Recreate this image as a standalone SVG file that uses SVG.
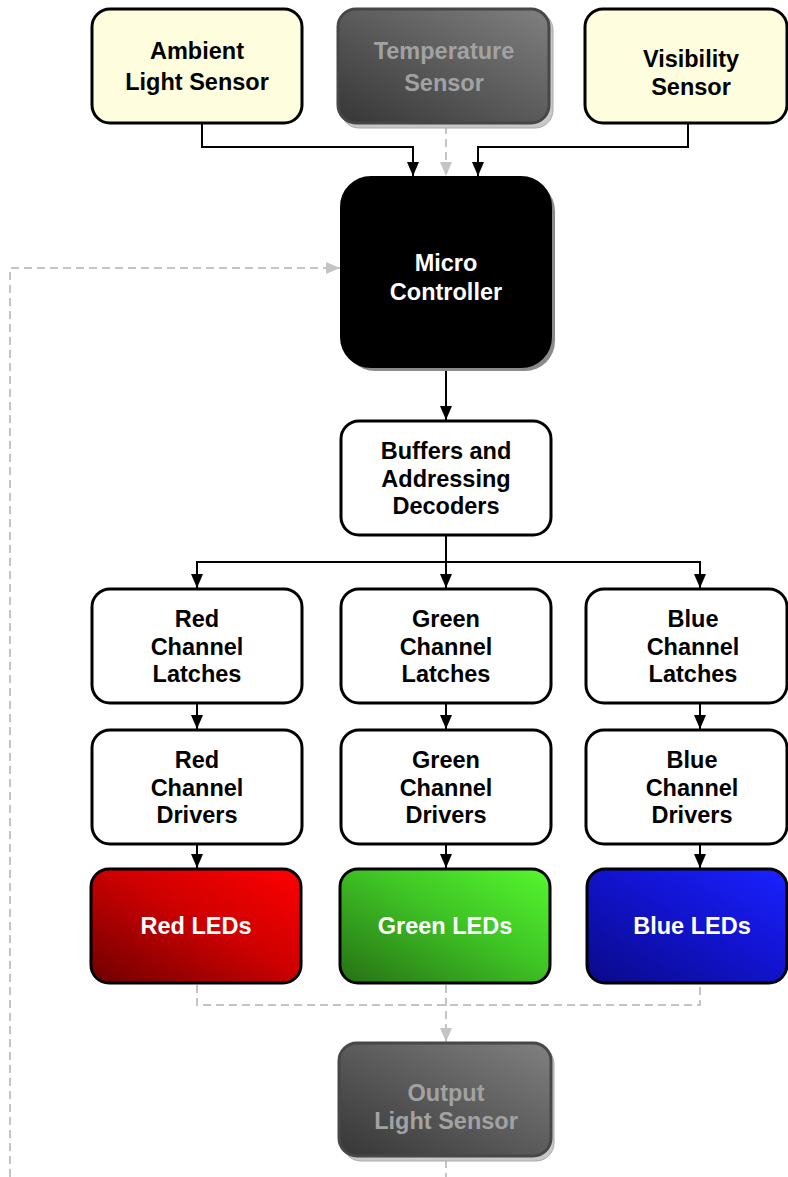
<svg xmlns="http://www.w3.org/2000/svg" width="788" height="1177" viewBox="0 0 788 1177">
<style>
.box{stroke:#000;stroke-width:3}
.white{fill:#fff}
.yellow{fill:#fefede}
.t{font-family:"Liberation Sans",Arial,Helvetica,sans-serif;font-weight:bold;font-size:23.5px;text-anchor:middle;fill:#000}
.tw{fill:#fff}
.tg{fill:#a2a2a2}
.c{fill:none;stroke:#000;stroke-width:2}
.d{fill:none;stroke:#c4c4c4;stroke-width:2;stroke-dasharray:8 5}
.gray{stroke:#474747;stroke-width:3}
.sh{fill:#c8c8c8;stroke:#aaa;stroke-width:1}
</style>
<defs>
<marker id="ah" markerUnits="userSpaceOnUse" viewBox="0 0 14 12" refX="14" refY="6" markerWidth="14" markerHeight="12" orient="auto"><path d="M0,0 L14,6 L0,12 z" fill="#000"/></marker>
<marker id="ahg" markerUnits="userSpaceOnUse" viewBox="0 0 14 12" refX="14" refY="6" markerWidth="14" markerHeight="12" orient="auto"><path d="M0,0 L14,6 L0,12 z" fill="#c4c4c4"/></marker>
<linearGradient id="gGray" x1="0" y1="1" x2="1" y2="0"><stop offset="0" stop-color="#363636"/><stop offset="1" stop-color="#808080"/></linearGradient>
<linearGradient id="gRed" x1="0" y1="1" x2="1" y2="0"><stop offset="0" stop-color="#6e0000"/><stop offset="0.55" stop-color="#d00000"/><stop offset="1" stop-color="#ff0000"/></linearGradient>
<linearGradient id="gGreen" x1="0" y1="1" x2="1" y2="0"><stop offset="0" stop-color="#267014"/><stop offset="0.55" stop-color="#3fc425"/><stop offset="1" stop-color="#55f72e"/></linearGradient>
<linearGradient id="gBlue" x1="0" y1="1" x2="1" y2="0"><stop offset="0" stop-color="#0a0a88"/><stop offset="0.55" stop-color="#1214d0"/><stop offset="1" stop-color="#1a22ff"/></linearGradient>
</defs>

<g id="connectors">
<path class="c" d="M202,124 V147 H413 V176" marker-end="url(#ah)"/>
<path class="d" d="M446,126 V176" marker-end="url(#ahg)"/>
<path class="c" d="M688,124 V147 H478 V176" marker-end="url(#ah)"/>
<path class="d" d="M10,1177 V268 H340" marker-end="url(#ahg)"/>
<path class="c" d="M446,370 V420" marker-end="url(#ah)"/>
<path class="c" d="M446,536 V588" marker-end="url(#ah)"/>
<path class="c" d="M446,562 H197 V588" marker-end="url(#ah)"/>
<path class="c" d="M446,562 H700 V588" marker-end="url(#ah)"/>
<path class="c" d="M197,704 V729" marker-end="url(#ah)"/>
<path class="c" d="M446,704 V729" marker-end="url(#ah)"/>
<path class="c" d="M700,704 V729" marker-end="url(#ah)"/>
<path class="c" d="M197,845 V868" marker-end="url(#ah)"/>
<path class="c" d="M446,845 V868" marker-end="url(#ah)"/>
<path class="c" d="M700,845 V868" marker-end="url(#ah)"/>
<path class="d" d="M197,985 V1005 H700 V985"/>
<path class="d" d="M446,985 V1042" marker-end="url(#ahg)"/>
<path class="d" d="M446,1160 V1177"/>
</g>

<g id="ambient">
<rect class="box yellow" x="92" y="9" width="210" height="114" rx="18"/>
<text class="t" x="197" y="59">Ambient</text>
<text class="t" x="197" y="90">Light Sensor</text>
</g>

<g id="temperature">
<rect class="sh" x="341" y="12" width="212" height="116" rx="18"/>
<rect class="gray" fill="url(#gGray)" x="338" y="9" width="211" height="114" rx="18"/>
<text class="t tg" x="444" y="59">Temperature</text>
<text class="t tg" x="444" y="91">Sensor</text>
</g>

<g id="visibility">
<rect class="box yellow" x="585" y="9" width="202" height="114" rx="18"/>
<text class="t" x="691" y="67">Visibility</text>
<text class="t" x="691" y="95">Sensor</text>
</g>

<g id="micro">
<rect x="345" y="181" width="210" height="190" rx="30" fill="#8a8a8a"/>
<rect x="341" y="177" width="210" height="190" rx="30" fill="#000" stroke="#000" stroke-width="2"/>
<text class="t tw" x="446" y="271">Micro</text>
<text class="t tw" x="446" y="300">Controller</text>
</g>

<g id="buffers">
<rect class="box white" x="341" y="421" width="210" height="114" rx="18"/>
<text class="t" x="446" y="459">Buffers and</text>
<text class="t" x="446" y="487">Addressing</text>
<text class="t" x="446" y="514">Decoders</text>
</g>

<g id="red-latches">
<rect class="box white" x="92" y="589" width="210" height="114" rx="18"/>
<text class="t" x="197" y="627">Red</text>
<text class="t" x="197" y="655">Channel</text>
<text class="t" x="197" y="682">Latches</text>
</g>
<g id="green-latches">
<rect class="box white" x="341" y="589" width="210" height="114" rx="18"/>
<text class="t" x="446" y="627">Green</text>
<text class="t" x="446" y="655">Channel</text>
<text class="t" x="446" y="682">Latches</text>
</g>
<g id="blue-latches">
<rect class="box white" x="586" y="589" width="201" height="114" rx="18"/>
<text class="t" x="693" y="627">Blue</text>
<text class="t" x="693" y="655">Channel</text>
<text class="t" x="693" y="682">Latches</text>
</g>

<g id="red-drivers">
<rect class="box white" x="92" y="730" width="210" height="114" rx="18"/>
<text class="t" x="197" y="768">Red</text>
<text class="t" x="197" y="796">Channel</text>
<text class="t" x="197" y="823">Drivers</text>
</g>
<g id="green-drivers">
<rect class="box white" x="341" y="730" width="210" height="114" rx="18"/>
<text class="t" x="446" y="768">Green</text>
<text class="t" x="446" y="796">Channel</text>
<text class="t" x="446" y="823">Drivers</text>
</g>
<g id="blue-drivers">
<rect class="box white" x="586" y="730" width="201" height="114" rx="18"/>
<text class="t" x="692" y="768">Blue</text>
<text class="t" x="692" y="796">Channel</text>
<text class="t" x="692" y="823">Drivers</text>
</g>

<g id="red-leds">
<rect class="box" fill="url(#gRed)" x="91" y="869" width="210" height="114" rx="18"/>
<text class="t tw" x="196" y="934">Red LEDs</text>
</g>
<g id="green-leds">
<rect class="box" fill="url(#gGreen)" x="340" y="869" width="210" height="114" rx="18"/>
<text class="t tw" x="445" y="934">Green LEDs</text>
</g>
<g id="blue-leds">
<rect class="box" fill="url(#gBlue)" x="587" y="869" width="200" height="114" rx="18"/>
<text class="t tw" x="692" y="934">Blue LEDs</text>
</g>

<g id="output-sensor">
<rect class="sh" x="343" y="1046" width="211" height="115" rx="18"/>
<rect class="gray" fill="url(#gGray)" x="339" y="1043" width="212" height="113" rx="18"/>
<text class="t tg" x="446" y="1101">Output</text>
<text class="t tg" x="446" y="1129">Light Sensor</text>
</g>
</svg>
